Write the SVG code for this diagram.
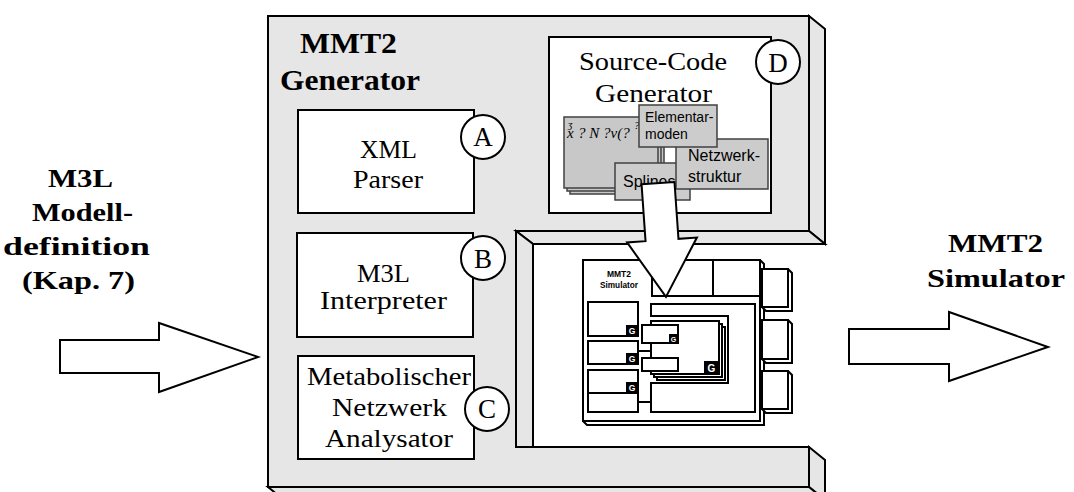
<svg xmlns="http://www.w3.org/2000/svg" width="1074" height="492" viewBox="0 0 1074 492">
<style>
.ol{stroke:#000;stroke-width:2;stroke-linejoin:miter}
.slab{fill:#e6e6e6}
.wh{fill:#fff}
.doc{fill:#c8c8c8;stroke:#404040;stroke-width:1.5}
.tag{fill:#cccccc;stroke:#404040;stroke-width:1.5}
.blk{fill:#000}
.sf{font-family:"Liberation Serif","Times New Roman",serif;font-size:26px;fill:#000}
.b{font-weight:bold}
.ss{font-family:"Liberation Sans",Arial,sans-serif;fill:#000}
.mid{text-anchor:middle}
.g{font-family:"Liberation Sans",Arial,sans-serif;font-weight:bold;fill:#fff;text-anchor:middle}
.arrow{fill:#fff;stroke:#000;stroke-width:2;stroke-linejoin:miter}
</style>
<rect width="1074" height="492" fill="#fff"/>

<!-- input label -->
<g id="input-label" class="sf b mid">
  <text x="80.5" y="187" textLength="65" lengthAdjust="spacingAndGlyphs">M3L</text>
  <text x="82.5" y="221" textLength="101" lengthAdjust="spacingAndGlyphs">Modell-</text>
  <text x="76.5" y="255" textLength="147" lengthAdjust="spacingAndGlyphs">definition</text>
  <text x="78.5" y="289" textLength="113" lengthAdjust="spacingAndGlyphs">(Kap. 7)</text>
</g>

<!-- output label -->
<g id="output-label" class="sf b mid">
  <text x="995.5" y="252" textLength="95" lengthAdjust="spacingAndGlyphs">MMT2</text>
  <text x="996" y="287" textLength="138" lengthAdjust="spacingAndGlyphs">Simulator</text>
</g>

<!-- generator slab: C-shaped with a sunken opening on the right -->
<g id="generator">
  <path class="slab ol" d="M268,16 H809 V231 H516 V447 H809 V487 H268 Z"/>
  <path class="slab ol" d="M809,16 L825,29 V244 L809,231 Z"/>
  <path class="slab ol" d="M516,231 H809 L825,244 H533 Z"/>
  <path class="slab ol" d="M516,231 L533,244 V447 H516 Z"/>
  <path class="slab ol" d="M809,447 L825,460 V500 L809,487 Z"/>
  <path class="slab ol" d="M268,487 H809 L825,500 H284 Z"/>
  <text class="sf b mid" style="font-size:30px" x="348.5" y="53" textLength="97" lengthAdjust="spacingAndGlyphs">MMT2</text>
  <text class="sf b mid" style="font-size:30px" x="350" y="90" textLength="140" lengthAdjust="spacingAndGlyphs">Generator</text>
</g>

<!-- A: XML parser -->
<g id="node-a">
  <rect class="wh ol" x="298" y="110" width="176" height="103"/>
  <text class="sf mid" x="388.5" y="158" textLength="57" lengthAdjust="spacingAndGlyphs">XML</text>
  <text class="sf mid" x="388" y="188" textLength="70" lengthAdjust="spacingAndGlyphs">Parser</text>
  <circle class="wh ol" cx="483" cy="137" r="22"/>
  <text class="sf mid" style="font-size:27px" x="483" y="146">A</text>
</g>

<!-- B: M3L interpreter -->
<g id="node-b">
  <rect class="wh ol" x="297" y="233" width="176" height="104"/>
  <text class="sf mid" x="383.5" y="282" textLength="53" lengthAdjust="spacingAndGlyphs">M3L</text>
  <text class="sf mid" x="383.5" y="309" textLength="127" lengthAdjust="spacingAndGlyphs">Interpreter</text>
  <circle class="wh ol" cx="483" cy="258" r="22"/>
  <text class="sf mid" style="font-size:27px" x="483" y="268">B</text>
</g>

<!-- C: metabolic network analyser -->
<g id="node-c">
  <rect class="wh ol" x="298" y="356" width="176" height="103"/>
  <text class="sf mid" x="389" y="385" textLength="164" lengthAdjust="spacingAndGlyphs">Metabolischer</text>
  <text class="sf mid" x="389.5" y="416" textLength="115" lengthAdjust="spacingAndGlyphs">Netzwerk</text>
  <text class="sf mid" x="389" y="447" textLength="128" lengthAdjust="spacingAndGlyphs">Analysator</text>
  <circle class="wh ol" cx="487" cy="409" r="22"/>
  <text class="sf mid" style="font-size:27px" x="487" y="418">C</text>
</g>

<!-- D: source code generator -->
<g id="node-d">
  <rect class="wh ol" x="549" y="37" width="222" height="176"/>
  <text class="sf mid" x="653" y="70" textLength="148" lengthAdjust="spacingAndGlyphs">Source-Code</text>
  <text class="sf mid" x="653.5" y="102" textLength="117" lengthAdjust="spacingAndGlyphs">Generator</text>
  <!-- stacked equation sheets -->
  <rect class="doc" x="570" y="123" width="94" height="71"/>
  <rect class="doc" x="567" y="120" width="94" height="71"/>
  <rect class="doc" x="564" y="117" width="94" height="71"/>
  <text x="567" y="138" font-size="15" font-family="'Liberation Serif','DejaVu Serif',serif" font-style="italic" fill="#000">x<tspan x="568" y="128" font-size="10">ʒ</tspan><tspan x="578" y="138">? N ?v(?</tspan><tspan x="634" y="129" font-size="11">?</tspan><tspan x="640" y="138">,</tspan></text>
  <rect class="tag" x="615" y="163" width="75" height="37"/>
  <text class="ss" x="623" y="187" font-size="16">Splines</text>
  <rect class="tag" x="676" y="139" width="92" height="50"/>
  <text class="ss" x="688" y="161" font-size="16">Netzwerk-</text>
  <text class="ss" x="688" y="182" font-size="16">struktur</text>
  <rect class="tag" x="639" y="105" width="78" height="42"/>
  <text class="ss" x="645" y="122" font-size="14">Elementar-</text>
  <text class="ss" x="645" y="139" font-size="14">moden</text>
  <circle class="wh ol" cx="778" cy="62" r="22"/>
  <text class="sf mid" style="font-size:27px" x="778" y="72">D</text>
</g>

<!-- generated simulator module -->
<g id="simulator">
  <path class="wh ol" d="M760,260 L764,264 V425 H587 L583,421"/>
  <rect class="wh ol" x="583" y="260" width="177" height="161"/>
  <!-- ports -->
  <path class="wh ol" d="M788,269 L792,273 V311 H766 L762,307"/>
  <rect class="wh ol" x="762" y="269" width="26" height="38"/>
  <path class="wh ol" d="M788,320 L792,324 V363 H766 L762,359"/>
  <rect class="wh ol" x="762" y="320" width="26" height="39"/>
  <path class="wh ol" d="M788,371 L792,375 V413 H766 L762,409"/>
  <rect class="wh ol" x="762" y="371" width="26" height="38"/>
  <text class="ss mid" x="619" y="277" font-size="8.5" font-weight="bold">MMT2</text>
  <text class="ss mid" x="619" y="288" font-size="8.5" font-weight="bold" textLength="38" lengthAdjust="spacingAndGlyphs">Simulator</text>
  <path class="ol" fill="none" d="M652,260 V296 H760 M713,260 V296"/>
  <path class="wh ol" d="M651,304 H755 V412 H651 V383 H728 V316 H651 Z"/>
  <!-- page stack -->
  <rect class="wh" stroke="#000" stroke-width="2" x="657" y="327" width="68" height="53"/>
  <rect class="wh" stroke="#000" stroke-width="2" x="654" y="324" width="68" height="53"/>
  <rect class="wh ol" x="651" y="321" width="68" height="53"/>
  <rect class="blk" x="704" y="361" width="15" height="13"/>
  <text class="g" x="711.5" y="371.5" font-size="10">G</text>
  <!-- small blocks on the page -->
  <rect class="wh ol" x="642" y="325" width="36" height="18"/>
  <rect class="blk" x="669" y="334" width="9" height="9"/>
  <text class="g" x="673.5" y="341.5" font-size="7">G</text>
  <rect class="wh ol" x="642" y="358" width="36" height="13"/>
  <!-- left column -->
  <path class="ol" fill="none" d="M638,351 H651 M638,402 H651"/>
  <rect class="wh ol" x="588" y="302" width="50" height="34"/>
  <rect class="blk" x="626" y="325" width="12" height="11"/>
  <text class="g" x="632" y="334" font-size="8.5">G</text>
  <rect class="wh ol" x="588" y="341" width="50" height="23"/>
  <rect class="blk" x="626" y="353" width="12" height="11"/>
  <text class="g" x="632" y="362" font-size="8.5">G</text>
  <rect class="wh ol" x="588" y="370" width="50" height="23"/>
  <rect class="blk" x="626" y="382" width="12" height="11"/>
  <text class="g" x="632" y="391" font-size="8.5">G</text>
  <rect class="wh ol" x="588" y="393" width="50" height="19"/>
</g>

<!-- flow arrows -->
<g id="connectors">
  <polygon class="arrow" points="60,340 159,340 159,323 258,357 159,392 159,373 60,373"/>
  <polygon class="arrow" points="849,329 949,329 949,312 1048,347 949,381 949,364 849,364"/>
  <polygon class="arrow" transform="rotate(-4 662 240)" points="645.5,183 678.5,183 678.5,240 697,240 662,297 627,240 645.5,240"/>
</g>
</svg>
